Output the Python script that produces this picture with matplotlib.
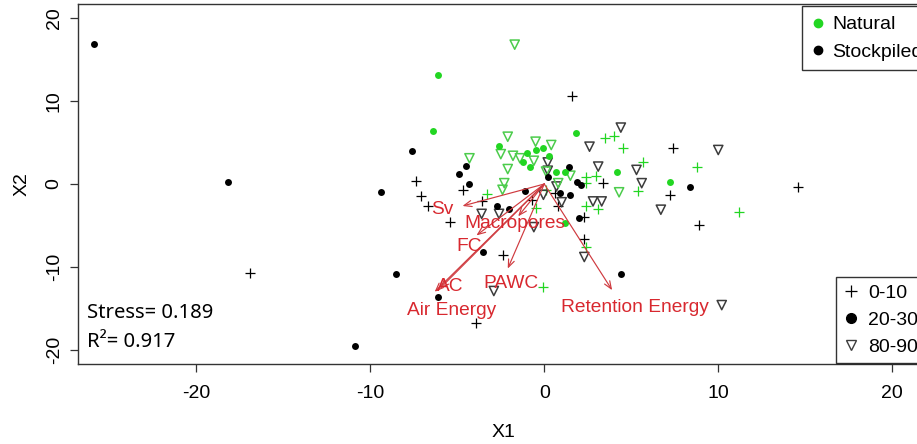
import numpy as np
import matplotlib.pyplot as plt
from matplotlib.lines import Line2D

# NMDS site scores, split by soil type and depth
nat_top_x = [3.5, 4.0, 4.5, 5.7, 2.4, 3.0, 5.4, 8.8, -3.3, 2.4, 2.4, 3.1, -0.5, 0.1, 2.4, -0.1, 11.2]
nat_top_y = [5.5, 5.8, 4.4, 2.6, 0.9, 1.0, -0.9, 2.1, -1.2, 0.1, -2.6, -3.0, -2.9, -0.7, -7.6, -12.4, -3.4]

nat_mid_x = [-6.1, -6.4, -2.6, -1.0, -0.5, -0.1, -1.2, -0.8, 0.3, 1.8, 0.7, 1.2, 4.2, 7.2, 1.2]
nat_mid_y = [13.2, 6.4, 4.6, 3.7, 4.1, 4.4, 2.6, 2.1, 3.4, 6.1, 1.5, 1.4, 1.4, 0.2, -4.7]

nat_deep_x = [-1.7, -2.1, -0.5, 0.4, -2.5, -1.8, -1.4, -0.6, -4.3, -2.1, -2.3, -2.4, 1.5, 4.3, 0.8, 0.1]
nat_deep_y = [16.8, 5.7, 5.1, 4.7, 3.6, 3.4, 3.1, 2.8, 3.1, 1.8, 0.1, -0.7, 1.0, -1.0, 0.1, 1.5]

stk_top_x = [-16.9, 14.6, 7.4, 7.2, 8.9, 1.6, -7.4, -7.1, -6.7, -4.7, -3.6, -0.7, 0.8, -5.4,
             -2.4, 2.3, 2.3, 3.4, -3.9, 0.6]
stk_top_y = [-10.7, -0.4, 4.3, -1.3, -4.9, 10.6, 0.4, -1.4, -2.6, -0.7, -2.1, -1.9, -2.6, -4.6,
             -8.6, -4.0, -6.6, 0.1, -16.8, -1.1]

stk_mid_x = [-25.9, -18.2, -9.4, -8.5, -10.9, -7.6, -4.5, -4.9, -4.3, -1.1, -2.7, -2.0, 1.4,
             0.9, 1.5, 0.2, 1.9, 2.1, 8.4, 2.0, 4.4, -3.5, -6.1]
stk_mid_y = [16.9, 0.2, -1.0, -10.8, -19.5, 4.0, 2.2, 1.2, 0.0, -0.9, -2.6, -3.0, 2.0,
             -1.1, -1.3, 0.8, 0.3, -0.1, -0.4, -4.1, -10.8, -8.2, -13.6]

stk_deep_x = [4.4, 2.6, 10.0, 3.1, 5.3, 5.6, 0.2, 0.2, 0.7, -0.05, 1.0, 2.8, 3.3, 6.7,
              -3.6, -2.6, -0.6, 2.3, -2.9, 10.2]
stk_deep_y = [6.8, 4.5, 4.1, 2.1, 1.7, 0.1, 2.6, 1.6, -0.3, -1.3, -2.2, -2.1, -2.1, -3.1,
              -3.6, -3.6, -5.2, -8.8, -12.9, -14.6]

# envfit vectors: arrow tips and label positions
vec_names = ['Sv', 'Macropores', 'FC', 'AC', 'Air Energy', 'PAWC', 'Retention Energy']
vec_x = [-4.7, -1.5, -3.9, -6.3, -6.0, -2.1, 3.9]
vec_y = [-2.65, -3.9, -6.2, -13.0, -12.6, -10.2, -12.8]
lab_x = [-5.85, -1.7, -4.3, -5.4, -5.3, -1.9, 5.2]
lab_y = [-3.1, -4.75, -7.5, -12.4, -15.2, -12.0, -14.9]

stress = 0.189
r2 = 0.917

green = '#22d622'
green_tri = '#4ccc4c'
black = 'black'
grey_tri = '#3c3c3c'
red = '#d8282f'

plt.rcParams['font.family'] = ['Liberation Sans', 'DejaVu Sans']
plt.rcParams['axes.unicode_minus'] = False

fig = plt.figure(figsize=(9.17, 4.44), dpi=100)
ax = fig.add_axes([78 / 917, 1 - 364 / 444, 852 / 917, 360 / 444])

ax.scatter(stk_top_x, stk_top_y, marker='+', s=60, c=black, linewidths=0.9, zorder=3)
ax.scatter(nat_top_x, nat_top_y, marker='+', s=60, c=green, linewidths=0.9, zorder=3)
ax.scatter(stk_deep_x, stk_deep_y, marker='v', s=44, facecolors='none', edgecolors=grey_tri,
           linewidths=1.1, zorder=3)
ax.scatter(nat_deep_x, nat_deep_y, marker='v', s=44, facecolors='none', edgecolors=green_tri,
           linewidths=1.1, zorder=3)
ax.scatter(stk_mid_x, stk_mid_y, marker='o', s=25, c=black, linewidths=0, zorder=3)
ax.scatter(nat_mid_x, nat_mid_y, marker='o', s=25, c=green, linewidths=0, zorder=3)

for name, tx, ty, lx, ly in zip(vec_names, vec_x, vec_y, lab_x, lab_y):
    ax.annotate('', xy=(tx, ty), xytext=(0, 0),
                arrowprops=dict(arrowstyle='->,head_length=0.55,head_width=0.22',
                                color='#cf3a3f', lw=0.85, shrinkA=0, shrinkB=0), zorder=4)
    ax.text(lx, ly, name, color=red, fontsize=13.8, ha='center', va='center', zorder=5)

ax.text(-26.3, -15.55, 'Stress= %.3f' % stress, fontsize=14.6, family=['Noto Sans', 'DejaVu Sans'],
        ha='left', va='center')
ax.text(-26.3, -19.05, 'R\u00b2= %.3f' % r2, fontsize=14.6, family=['Noto Sans', 'DejaVu Sans'],
        ha='left', va='center')

ax.set_xlim(-26.8, 22.17)
ax.set_ylim(-21.7, 21.7)
ax.set_xticks([-20, -10, 0, 10, 20])
ax.set_yticks([-20, -10, 0, 10, 20])
ax.tick_params(direction='out', length=6, width=0.9, labelsize=14, color='#333333')
ax.tick_params(axis='x', pad=9)
ax.tick_params(axis='y', pad=5)
for lab in ax.get_yticklabels():
    lab.set_rotation(90)
    lab.set_va('center')
for sp in ax.spines.values():
    sp.set_color('#333333')
    sp.set_linewidth(1.0)
ax.set_xlabel('X1', fontsize=14, labelpad=16)
ax.set_ylabel('X2', fontsize=14, labelpad=11)

type_handles = [
    Line2D([], [], marker='o', ls='none', color=green, markersize=6, label='Natural'),
    Line2D([], [], marker='o', ls='none', color=black, markersize=6, label='Stockpiled'),
]
leg1 = fig.legend(handles=type_handles, loc='upper left', bbox_to_anchor=(802 / 917, 1 - 6 / 444),
                  frameon=True, fancybox=False, edgecolor='black', fontsize=14,
                  handlelength=0.6, handletextpad=0.45, borderpad=0.5, labelspacing=0.5,
                  borderaxespad=0)
leg1.get_frame().set_linewidth(1.0)

depth_handles = [
    Line2D([], [], marker='+', ls='none', color=black, markersize=8, markeredgewidth=0.9, label='0-10'),
    Line2D([], [], marker='o', ls='none', color=black, markersize=7, label='20-30'),
    Line2D([], [], marker='v', ls='none', color=grey_tri, markerfacecolor='none',
           markersize=7, markeredgewidth=1.0, label='80-90'),
]
leg2 = fig.legend(handles=depth_handles, loc='upper left', bbox_to_anchor=(836 / 917, 1 - 277 / 444),
                  frameon=True, fancybox=False, edgecolor='black', fontsize=14,
                  handlelength=0.8, handletextpad=0.5, borderpad=0.37, labelspacing=0.48,
                  borderaxespad=0)
leg2.get_frame().set_linewidth(1.0)

fig.savefig('out.png', dpi=100)
